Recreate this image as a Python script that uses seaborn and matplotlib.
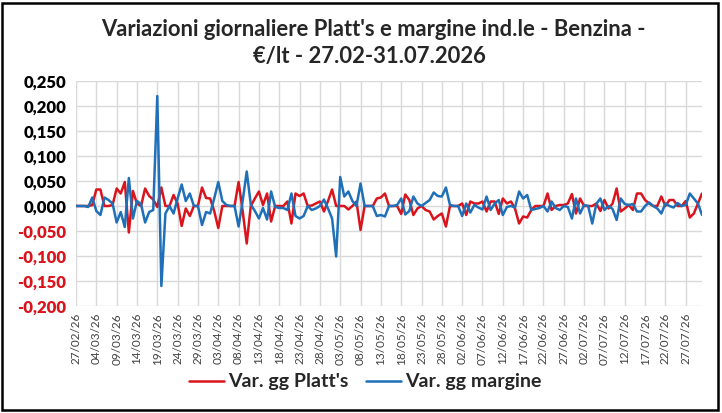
import pandas as pd
import numpy as np
import matplotlib
matplotlib.use("Agg")
import matplotlib.pyplot as plt
import matplotlib.dates as mdates
from matplotlib.ticker import FuncFormatter, MultipleLocator
from matplotlib.patches import Rectangle
import seaborn as sns

# daily data 27/02/26 -> 31/07/26
start_date = "2026-02-27"
end_date = "2026-07-31"

platts = [
    0.000, 0.000, 0.000, 0.000, 0.002, 0.033, 0.033, 0.000, 0.000, 0.002,
    0.035, 0.025, 0.048, -0.053, 0.030, 0.005, 0.000, 0.035, 0.020, 0.013,
    -0.002, 0.037, 0.000, 0.000, 0.022, 0.005, -0.040, -0.005, -0.020, 0.000,
    0.000, 0.037, 0.016, 0.015, -0.010, -0.044, 0.000, 0.000, 0.000, 0.000,
    0.048, -0.010, -0.075, 0.000, 0.015, 0.029, 0.002, 0.025, -0.031, 0.000,
    0.000, 0.000, 0.009, -0.035, 0.025, 0.020, 0.025, 0.000, 0.001, 0.005,
    0.009, -0.011, 0.010, 0.033, 0.000, 0.000, 0.000, -0.007, 0.000, 0.009,
    -0.048, 0.000, 0.000, 0.000, 0.015, 0.017, 0.025, 0.000, 0.000, 0.000,
    -0.016, 0.023, 0.012, -0.018, -0.005, 0.000, -0.008, -0.011, -0.027, -0.020,
    -0.015, -0.041, 0.000, 0.000, 0.000, 0.005, -0.018, 0.009, 0.005, 0.005,
    0.009, -0.011, 0.009, 0.009, -0.016, 0.015, 0.005, 0.009, -0.005, -0.035,
    -0.021, -0.023, -0.008, 0.000, 0.000, 0.000, 0.025, -0.008, 0.000, 0.002,
    0.002, 0.005, 0.024, -0.015, 0.015, 0.000, 0.000, 0.000, 0.005, -0.010,
    0.012, -0.005, 0.005, 0.035, -0.011, -0.005, 0.002, -0.008, 0.025, 0.025,
    0.012, 0.005, 0.000, 0.000, 0.019, 0.000, 0.012, 0.012, 0.000, 0.000,
    0.010, -0.023, -0.015, 0.005, 0.025,
]

margine = [
    0.000, 0.000, 0.000, -0.002, 0.017, -0.010, -0.018, 0.017, 0.012, 0.005,
    -0.033, -0.012, -0.042, 0.056, -0.025, 0.010, 0.004, -0.033, -0.012, -0.008,
    0.220, -0.160, -0.015, 0.000, -0.015, 0.015, 0.043, 0.010, 0.025, 0.000,
    0.000, -0.038, -0.012, -0.015, 0.015, 0.048, 0.010, 0.002, 0.000, 0.000,
    -0.041, 0.010, 0.069, 0.003, -0.010, -0.025, -0.004, -0.027, 0.029, -0.002,
    -0.004, -0.004, -0.008, 0.025, -0.020, -0.025, -0.020, 0.000, -0.008, -0.005,
    0.000, 0.013, -0.005, -0.025, -0.101, 0.058, 0.019, 0.029, 0.010, 0.000,
    0.045, 0.000, 0.000, 0.000, -0.020, -0.018, -0.021, 0.000, 0.000, 0.002,
    0.015, -0.017, -0.010, 0.019, 0.005, 0.000, 0.006, 0.012, 0.027, 0.020,
    0.019, 0.037, 0.002, 0.000, 0.000, -0.020, 0.005, -0.013, 0.002, -0.003,
    -0.007, 0.019, -0.008, 0.005, 0.012, -0.018, -0.002, 0.000, -0.003, 0.029,
    0.015, 0.022, -0.008, -0.006, -0.004, 0.000, -0.011, 0.009, -0.004, -0.008,
    0.000, -0.002, -0.025, 0.015, -0.015, 0.002, 0.000, -0.035, 0.004, 0.015,
    -0.008, 0.000, -0.006, -0.028, 0.015, 0.004, 0.002, 0.004, -0.011, -0.011,
    0.000, 0.007, 0.000, -0.005, -0.015, 0.005, 0.000, -0.003, 0.006, 0.000,
    0.002, 0.025, 0.015, 0.005, -0.018,
]

labels = ["Var. gg Platt's", "Var. gg margine"]
colors = ["#D9141C", "#1F70B8"]

dates = pd.date_range(start_date, end_date, freq="D")
df = pd.DataFrame({"data": dates, labels[0]: platts, labels[1]: margine})
df_long = df.melt(id_vars="data", var_name="serie", value_name="valore")

sns.set_style("white")
plt.rcParams["font.family"] = ["Lato", "DejaVu Sans"]

fig = plt.figure(figsize=(7.22, 4.13), dpi=100)
ax = fig.add_axes([76 / 722, 1 - 306 / 413, (702 - 76) / 722, (306 - 81) / 413])

sns.lineplot(data=df_long, x="data", y="valore", hue="serie",
             palette=dict(zip(labels, colors)), linewidth=1.8, ax=ax)

ax.set_xlim(dates[0], dates[-1])
ax.set_ylim(-0.2, 0.25)
ax.yaxis.set_major_locator(MultipleLocator(0.05))
ax.yaxis.set_major_formatter(FuncFormatter(lambda v, p: f"{v:.3f}".replace(".", ",").replace("-0,000", "0,000")))
ax.set_xticks(pd.date_range(start_date, end_date, freq="5D"))
ax.xaxis.set_major_formatter(mdates.DateFormatter("%d/%m/%y"))
ax.grid(True, color="#d9d9d9", linewidth=1.0)
for s in ax.spines.values():
    s.set_visible(False)
ax.tick_params(axis="x", labelrotation=90, labelsize=8.5, colors="#404040", length=0, pad=5)
ax.tick_params(axis="y", labelsize=12, length=0, pad=7)
for t in ax.get_yticklabels():
    t.set_fontweight("heavy")
    t.set_color("#D9141C" if t.get_position()[1] < -1e-9 else "black")
ax.set_xlabel("")
ax.set_ylabel("")

ax.legend(loc="center", bbox_to_anchor=(365 / 722, 1 - 382 / 413), bbox_transform=fig.transFigure,
          ncol=2, frameon=False, prop={"weight": "bold", "size": 14},
          handlelength=1.8, columnspacing=0.9, handletextpad=0.2)

fig.text(0.517, 1 - 30 / 413, "Variazioni giornaliere Platt's e margine ind.le - Benzina -",
         ha="center", va="center", fontsize=15.8, fontweight="bold")
fig.text(0.512, 1 - 57 / 413, "€/lt - 27.02-31.07.2026",
         ha="center", va="center", fontsize=15.8, fontweight="bold")

fig.patches.append(Rectangle((2 / 722, 3 / 413), 716 / 722, 407 / 413, transform=fig.transFigure,
                             fill=False, edgecolor="black", linewidth=1.8))

fig.savefig("out.png", dpi=100)
